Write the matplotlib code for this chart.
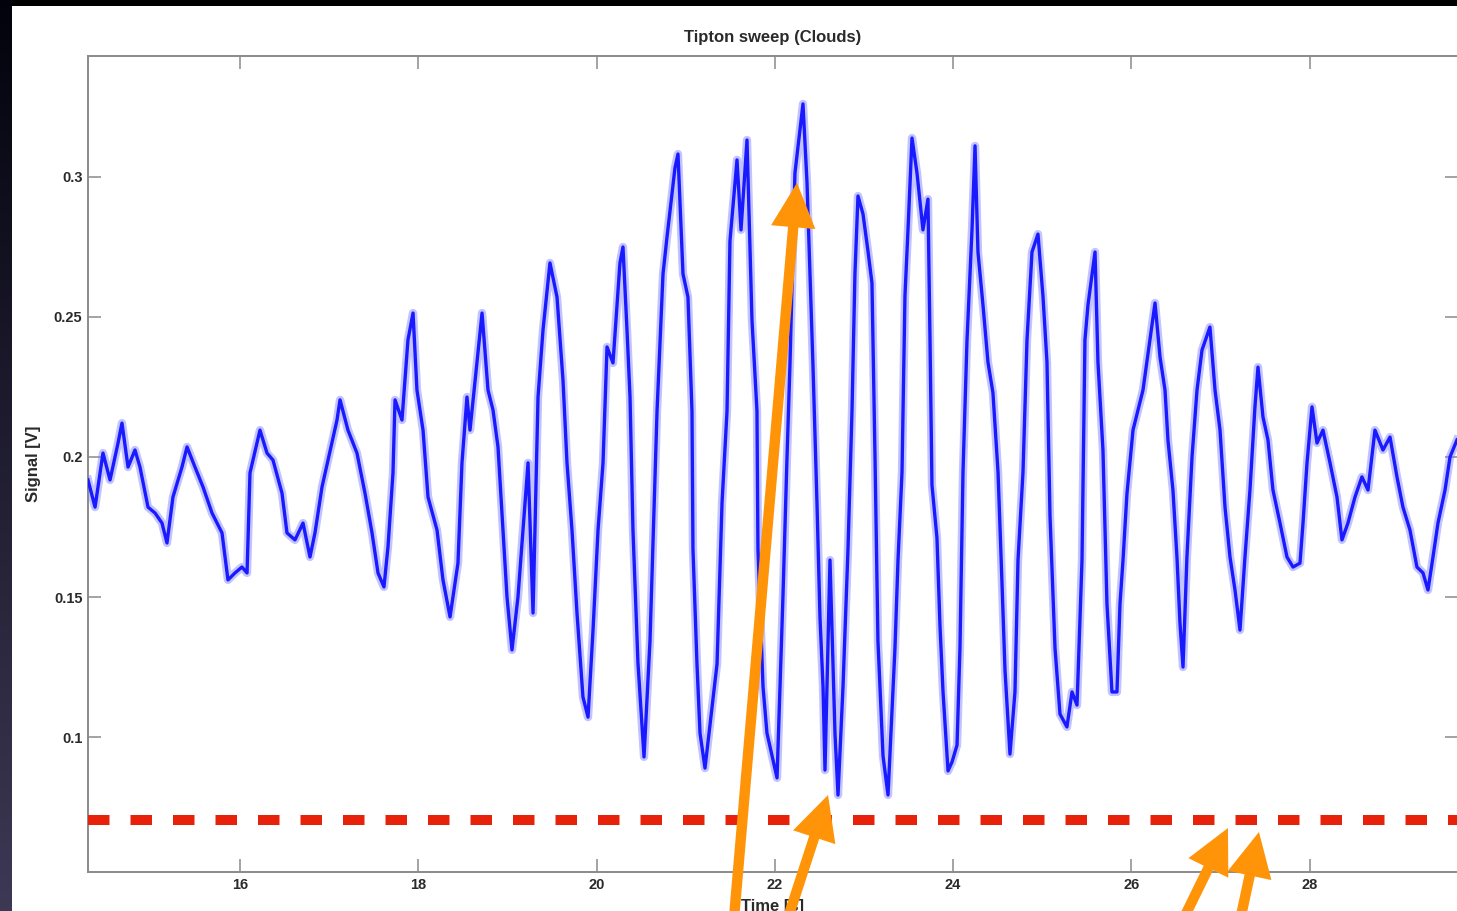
import numpy as np
import matplotlib
matplotlib.use("Agg")
import matplotlib.pyplot as plt
from matplotlib.patches import Rectangle

# Sweep signal: time [s] and detector signal [V]
time_s = [
    14.295, 14.374, 14.463, 14.542, 14.632, 14.676, 14.744, 14.822, 14.878, 14.968,
    15.047, 15.125, 15.181, 15.248, 15.349, 15.406, 15.495, 15.585, 15.686, 15.798,
    15.865, 15.944, 16.022, 16.079, 16.112, 16.224, 16.303, 16.370, 16.471, 16.527,
    16.617, 16.707, 16.785, 16.841, 16.920, 16.987, 17.088, 17.122, 17.211, 17.312,
    17.402, 17.481, 17.548, 17.615, 17.660, 17.716, 17.739, 17.817, 17.884, 17.941,
    17.985, 18.053, 18.109, 18.210, 18.277, 18.356, 18.445, 18.490, 18.546, 18.580,
    18.658, 18.715, 18.782, 18.838, 18.894, 18.950, 18.995, 19.051, 19.118, 19.174,
    19.231, 19.287, 19.343, 19.399, 19.477, 19.556, 19.623, 19.668, 19.724, 19.780,
    19.847, 19.904, 19.960, 20.016, 20.072, 20.117, 20.184, 20.262, 20.296, 20.341,
    20.375, 20.408, 20.464, 20.532, 20.599, 20.678, 20.745, 20.790, 20.879, 20.913,
    20.969, 21.025, 21.070, 21.081, 21.126, 21.160, 21.216, 21.351, 21.407, 21.463,
    21.496, 21.575, 21.620, 21.687, 21.743, 21.799, 21.810, 21.867, 21.911, 22.024,
    22.091, 22.136, 22.169, 22.225, 22.315, 22.360, 22.394, 22.427, 22.472, 22.506,
    22.540, 22.562, 22.618, 22.674, 22.708, 22.764, 22.820, 22.865, 22.898, 22.932,
    22.988, 23.044, 23.089, 23.123, 23.156, 23.213, 23.269, 23.347, 23.381, 23.426,
    23.459, 23.493, 23.538, 23.594, 23.661, 23.717, 23.740, 23.762, 23.818, 23.852,
    23.886, 23.942, 23.987, 24.043, 24.076, 24.110, 24.155, 24.211, 24.245, 24.278,
    24.334, 24.390, 24.446, 24.503, 24.547, 24.581, 24.637, 24.693, 24.727, 24.783,
    24.828, 24.884, 24.951, 25.007, 25.052, 25.086, 25.142, 25.198, 25.276, 25.333,
    25.389, 25.445, 25.478, 25.512, 25.591, 25.624, 25.680, 25.725, 25.781, 25.837,
    25.871, 25.905, 25.949, 26.017, 26.129, 26.207, 26.264, 26.320, 26.376, 26.409,
    26.465, 26.510, 26.544, 26.578, 26.622, 26.679, 26.735, 26.791, 26.880, 26.937,
    26.993, 27.049, 27.105, 27.161, 27.217, 27.273, 27.329, 27.385, 27.419, 27.475,
    27.531, 27.587, 27.666, 27.744, 27.812, 27.890, 27.924, 27.969, 28.025, 28.081,
    28.148, 28.227, 28.305, 28.361, 28.428, 28.507, 28.585, 28.653, 28.731, 28.821,
    28.900, 28.978, 29.045, 29.124, 29.202, 29.270, 29.326, 29.382, 29.438, 29.517,
    29.573, 29.651,
]

signal_v = [
    0.1918, 0.1821, 0.2014, 0.1918, 0.2050, 0.2121, 0.1964, 0.2025, 0.1964, 0.1821,
    0.1800, 0.1764, 0.1693, 0.1857, 0.1964, 0.2036, 0.1964, 0.1893, 0.1800, 0.1729,
    0.1561, 0.1586, 0.1607, 0.1586, 0.1943, 0.2096, 0.2014, 0.1989, 0.1871, 0.1729,
    0.1704, 0.1764, 0.1643, 0.1729, 0.1893, 0.1989, 0.2132, 0.2204, 0.2096, 0.2014,
    0.1871, 0.1729, 0.1586, 0.1536, 0.1679, 0.1943, 0.2204, 0.2132, 0.2418, 0.2514,
    0.2239, 0.2096, 0.1857, 0.1739, 0.1561, 0.1429, 0.1621, 0.1979, 0.2214, 0.2096,
    0.2336, 0.2514, 0.2239, 0.2168, 0.2036, 0.1739, 0.1500, 0.1311, 0.1500, 0.1739,
    0.1979, 0.1443, 0.2214, 0.2454, 0.2693, 0.2571, 0.2275, 0.1979, 0.1739, 0.1443,
    0.1143, 0.1071, 0.1382, 0.1739, 0.1979, 0.2393, 0.2336, 0.2693, 0.2750, 0.2454,
    0.2214, 0.1739, 0.1264, 0.0929, 0.1343, 0.2164, 0.2654, 0.2786, 0.3032, 0.3082,
    0.2654, 0.2571, 0.2164, 0.1671, 0.1261, 0.1014, 0.0889, 0.1261, 0.1836, 0.2164,
    0.2771, 0.3061, 0.2811, 0.3132, 0.2489, 0.2164, 0.1671, 0.1179, 0.1014, 0.0854,
    0.1507, 0.2000, 0.2329, 0.3014, 0.3261, 0.2982, 0.2654, 0.2329, 0.1836, 0.1425,
    0.1179, 0.0882, 0.1632, 0.1014, 0.0793, 0.1179, 0.1671, 0.2164, 0.2654, 0.2932,
    0.2868, 0.2736, 0.2621, 0.2000, 0.1343, 0.0932, 0.0793, 0.1318, 0.1632, 0.1946,
    0.2575, 0.2811, 0.3139, 0.3014, 0.2811, 0.2921, 0.2418, 0.1900, 0.1711, 0.1396,
    0.1161, 0.0879, 0.0911, 0.0971, 0.1318, 0.1946, 0.2418, 0.2811, 0.3111, 0.2732,
    0.2543, 0.2339, 0.2229, 0.1946, 0.1554, 0.1239, 0.0939, 0.1161, 0.1632, 0.1946,
    0.2418, 0.2732, 0.2796, 0.2575, 0.2339, 0.1789, 0.1318, 0.1082, 0.1036, 0.1161,
    0.1114, 0.1632, 0.2418, 0.2543, 0.2732, 0.2339, 0.2025, 0.1475, 0.1161, 0.1161,
    0.1475, 0.1632, 0.1868, 0.2096, 0.2239, 0.2418, 0.2550, 0.2357, 0.2239, 0.2061,
    0.1882, 0.1643, 0.1407, 0.1250, 0.1643, 0.2000, 0.2239, 0.2382, 0.2464, 0.2239,
    0.2096, 0.1821, 0.1643, 0.1525, 0.1382, 0.1643, 0.1882, 0.2179, 0.2321, 0.2143,
    0.2061, 0.1882, 0.1764, 0.1643, 0.1607, 0.1621, 0.1764, 0.1979, 0.2179, 0.2050,
    0.2096, 0.1979, 0.1857, 0.1704, 0.1764, 0.1857, 0.1929, 0.1882, 0.2096, 0.2025,
    0.2071, 0.1929, 0.1821, 0.1739, 0.1607, 0.1586, 0.1525, 0.1643, 0.1764, 0.1882,
    0.2000, 0.2061,
]

threshold_v = 0.0704

# Annotation arrows: (tail time, tail signal) -> (head time, head signal)
arrow_tails = [(21.530, 0.0311), (22.102, 0.0311), (26.522, 0.0311), (27.195, 0.0311)]
arrow_heads = [(22.248, 0.2979), (22.596, 0.0793), (27.082, 0.0675), (27.430, 0.0661)]

x_ticks = [16, 18, 20, 22, 24, 26, 28]
y_ticks = [0.1, 0.15, 0.2, 0.25, 0.3]
y_tick_labels = ["0.1", "0.15", "0.2", "0.25", "0.3"]

W, H = 1457, 911
fig = plt.figure(figsize=(W / 100, H / 100), dpi=100, facecolor="black")

# slide backdrop: dark gradient strip on the left, white panel
bg_ax = fig.add_axes([0, 0, 1, 1], zorder=-5)
bg_ax.set_axis_off()
grad = np.linspace(0, 1, 256)[:, None]
cols = np.empty((256, 1, 3))
top_c = np.array([0.01, 0.01, 0.05])
bot_c = np.array([0.24, 0.22, 0.33])
cols[:, 0, :] = top_c + (bot_c - top_c) * grad
bg_ax.imshow(cols, aspect="auto", extent=[0, 12, H, 0], origin="upper")
bg_ax.add_patch(Rectangle((12, 6), W - 12, H - 6, facecolor="white", edgecolor="none"))
bg_ax.set_xlim(0, W)
bg_ax.set_ylim(H, 0)

font = "Liberation Sans"
txt_col = "#2a2a2a"
ax = fig.add_axes([88 / W, 39 / H, 1369.5 / W, 816 / H])
ax.set_facecolor("white")

t = np.array(time_s)
v = np.array(signal_v)
ax.plot(t, v, color="#7a7aff", lw=6.0, alpha=0.45, zorder=2)
ax.plot(t, v, color="#1a1aff", lw=2.4, zorder=3)

ax.axhline(threshold_v, color="#e8220a", lw=7.2, linestyle=(0, (2.15, 2.1)),
           dash_capstyle="butt", zorder=4)

ax.set_xlim(14.295, 29.657)
ax.set_ylim(0.0518, 0.3432)
ax.set_xticks(x_ticks)
ax.set_xticklabels([str(x) for x in x_ticks])
ax.set_yticks(y_ticks)
ax.set_yticklabels(y_tick_labels)
ax.tick_params(direction="in", top=True, right=True, length=9.4, width=1.1,
               color="#8a8a8a", labelsize=10.5, labelcolor=txt_col, pad=4)
for lab in ax.get_xticklabels() + ax.get_yticklabels():
    lab.set_fontfamily(font)
    lab.set_fontweight("bold")
for sp in ax.spines.values():
    sp.set_color("#8a8a8a")
    sp.set_linewidth(1.4)

ax.set_title("Tipton sweep (Clouds)", fontsize=12, fontweight="bold",
             family=font, color=txt_col, pad=10)
ax.set_xlabel("Time [s]", fontsize=12, fontweight="bold", family=font,
              color=txt_col, labelpad=5)
ax.set_ylabel("Signal [V]", fontsize=12, fontweight="bold", family=font,
              color=txt_col, labelpad=9)

for (tx, ty), (hx, hy) in zip(arrow_tails, arrow_heads):
    ax.annotate("", xy=(hx, hy), xytext=(tx, ty), annotation_clip=False,
                arrowprops=dict(facecolor="#ff9408", edgecolor="none",
                                width=7.5, headwidth=32, headlength=32,
                                shrink=0.0), zorder=6)

fig.savefig("out.png", dpi=100, facecolor=fig.get_facecolor())
